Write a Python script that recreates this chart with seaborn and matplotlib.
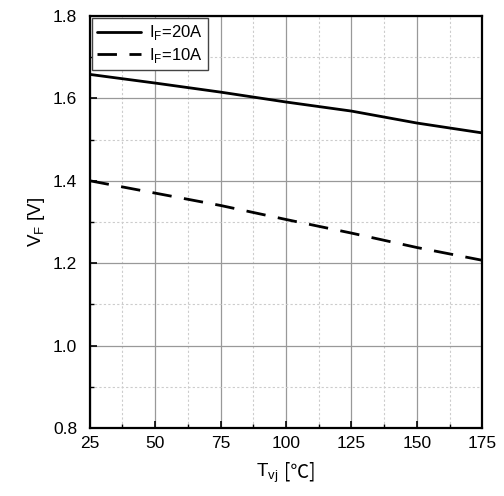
import numpy as np
import pandas as pd
import seaborn as sns
import matplotlib.pyplot as plt
from matplotlib.ticker import MultipleLocator
from matplotlib.offsetbox import TextArea, HPacker, AnchoredOffsetbox

# values
temps = [25, 50, 75, 100, 125, 150, 175]
vf_20a = [1.658, 1.637, 1.615, 1.591, 1.569, 1.540, 1.516]
vf_10a = [1.400, 1.370, 1.340, 1.306, 1.273, 1.238, 1.207]
labels = [r'I$_\mathregular{F}$=20A', r'I$_\mathregular{F}$=10A']

sns.set_style('ticks')
plt.rcParams['font.family'] = ['Liberation Sans', 'DejaVu Sans']
plt.rcParams['mathtext.fontset'] = 'custom'
plt.rcParams['mathtext.rm'] = 'Liberation Sans'
plt.rcParams['text.color'] = 'black'
plt.rcParams['axes.labelcolor'] = 'black'
plt.rcParams['xtick.color'] = 'black'
plt.rcParams['ytick.color'] = 'black'

df = pd.DataFrame({
    'T': temps * 2,
    'VF': vf_20a + vf_10a,
    'curve': [labels[0]] * len(temps) + [labels[1]] * len(temps),
})

fig, ax = plt.subplots(figsize=(5.04, 4.96), dpi=100)
sns.lineplot(data=df, x='T', y='VF', style='curve', style_order=labels,
             dashes={labels[0]: '', labels[1]: (7, 4.5)},
             color='black', linewidth=2, ax=ax)

ax.set_xlim(25, 175)
ax.set_ylim(0.8, 1.8)
ax.xaxis.set_major_locator(MultipleLocator(25))
ax.xaxis.set_minor_locator(MultipleLocator(12.5))
ax.yaxis.set_major_locator(MultipleLocator(0.2))
ax.yaxis.set_minor_locator(MultipleLocator(0.1))
ax.yaxis.set_major_formatter(lambda v, p: f'{v:.1f}')

ax.grid(which='major', color='#999999', linewidth=0.9)
ax.grid(which='minor', color='#cccccc', linewidth=0.8, linestyle=(0, (2, 2)))
ax.set_axisbelow(True)

ax.tick_params(which='major', direction='in', length=5, width=1.2, labelsize=12.5)
ax.tick_params(which='minor', direction='in', length=3, width=1)
ax.tick_params(axis='y', which='major', pad=9)
ax.tick_params(axis='x', which='major', pad=6)
for s in ax.spines.values():
    s.set_linewidth(1.6)
    s.set_color('black')

# x label: mathtext subscript part + plain text part (so the degree sign falls back)
ax.set_xlabel('')
xl = HPacker(children=[
    TextArea('T$_\\mathregular{vj}$', textprops=dict(fontsize=13.5)),
    TextArea('[\u2103]', textprops=dict(fontsize=13.5,
                                        family=['Noto Sans CJK SC', 'DejaVu Sans'])),
], align='baseline', pad=0, sep=4)
ab = AnchoredOffsetbox(loc='upper center', child=xl, pad=0, frameon=False,
                       bbox_to_anchor=(0.5, -0.08), bbox_transform=ax.transAxes,
                       borderpad=0)
ax.add_artist(ab)
ax.set_ylabel('V$_\\mathregular{F}$ [V]', fontsize=13.5, labelpad=4)

leg = ax.legend(loc='upper left', fontsize=12, frameon=True, fancybox=False,
                edgecolor='#444444', framealpha=1, handlelength=2.6,
                borderaxespad=0.15, borderpad=0.3, labelspacing=0.2,
                handletextpad=0.5)
leg.get_frame().set_linewidth(1)

fig.subplots_adjust(left=0.178, right=0.957, top=0.968, bottom=0.137)
fig.savefig('out.png', dpi=100)
